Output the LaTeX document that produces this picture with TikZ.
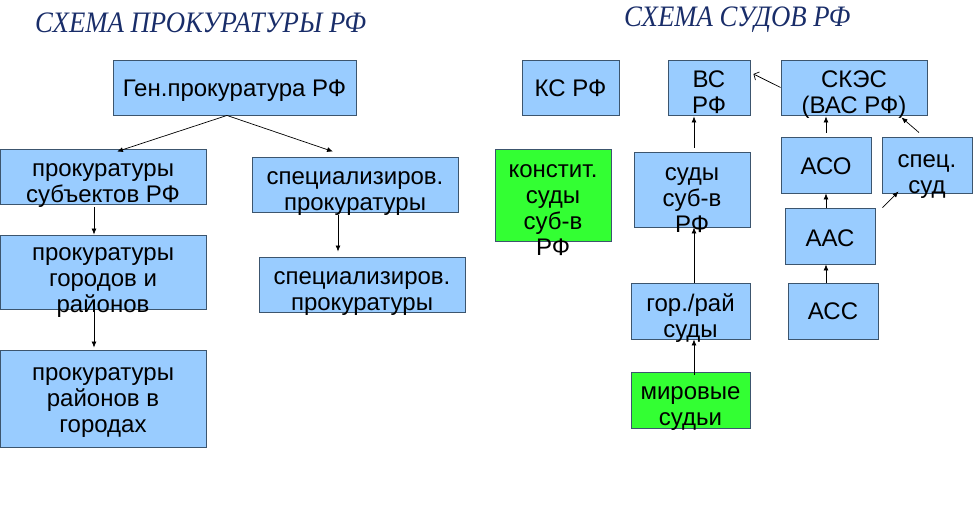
\documentclass[tikz,border=0pt]{standalone}
\usepackage{fontspec}
\setmainfont{Liberation Sans}
\newfontfamily\titlefont{Liberation Serif}[FakeStretch=0.9]
\usetikzlibrary{arrows.meta}
\definecolor{boxblue}{RGB}{153,204,255}
\definecolor{boxgreen}{RGB}{51,255,51}
\definecolor{boxline}{RGB}{60,85,110}
\definecolor{titleblue}{RGB}{25,45,105}
\tikzstyle{bluebox} = [rectangle, draw=boxline, fill=boxblue, line width=0.9pt, inner sep=0pt]
\tikzstyle{greenbox} = [bluebox, fill=boxgreen]
\tikzstyle{boxtext} = [align=center, inner sep=0pt, font=\fontsize{24}{26}\selectfont]
\tikzstyle{heading} = [inner sep=0pt, anchor=base west, text=titleblue, font=\titlefont\itshape\fontsize{29.7}{32}\selectfont]
\tikzstyle{arrow} = [line width=0.7pt, -{Latex[length=6pt,width=5pt]}]
\tikzstyle{openarrow} = [line width=0.7pt, -{Straight Barb[length=4pt,width=9pt]}]

\begin{document}
\begin{tikzpicture}[x=1pt, y=-1pt]
\useasboundingbox (0,0) rectangle (974,514);
% заголовки
\node (headL) [heading] at (35,32) {СХЕМА ПРОКУРАТУРЫ РФ};
\node (headR) [heading] at (624,27) {СХЕМА СУДОВ РФ};

% прокуратура
\node (gen) [bluebox, minimum width=243pt, minimum height=55pt] at (234.5,87.5) {};
\node (subj) [bluebox, minimum width=206pt, minimum height=55pt] at (103,176.5) {};
\node (spec1) [bluebox, minimum width=206pt, minimum height=55pt] at (355,184.5) {};
\node (gor) [bluebox, minimum width=206pt, minimum height=74pt] at (103,272) {};
\node (rayon) [bluebox, minimum width=206pt, minimum height=97pt] at (103,398.5) {};
\node (spec2) [bluebox, minimum width=206pt, minimum height=55pt] at (362,284.5) {};

% суды
\node (ks) [bluebox, minimum width=97pt, minimum height=55pt] at (570.5,87.5) {};
\node (vs) [bluebox, minimum width=82pt, minimum height=55pt] at (709,87.5) {};
\node (skes) [bluebox, minimum width=146pt, minimum height=55pt] at (854,87.5) {};
\node (konst) [greenbox, minimum width=116pt, minimum height=92pt] at (553,195) {};
\node (suds) [bluebox, minimum width=116pt, minimum height=75pt] at (692,189.5) {};
\node (aso) [bluebox, minimum width=90pt, minimum height=56pt] at (826,165) {};
\node (specsud) [bluebox, minimum width=90pt, minimum height=56pt] at (927,165) {};
\node (aas) [bluebox, minimum width=90pt, minimum height=56pt] at (830,236) {};
\node (acc) [bluebox, minimum width=90pt, minimum height=56pt] at (833,311) {};
\node (gorray) [bluebox, minimum width=119pt, minimum height=56pt] at (690.5,311) {};
\node (mir) [greenbox, minimum width=119pt, minimum height=56pt] at (690.5,400) {};

% стрелки
\draw [arrow] ([xshift=-7.5pt]gen.south) -- ([xshift=14pt,yshift=-3pt]subj.north);
\draw [arrow] ([xshift=-7.5pt]gen.south) -- ([xshift=-22pt,yshift=5pt]spec1.north);
\draw [arrow] ([xshift=-9pt,yshift=-3pt]subj.south) -- ([xshift=-9pt]gor.north);
\draw [arrow] ([xshift=-9pt]gor.south) -- ([xshift=-9pt,yshift=2pt]rayon.north);
\draw [arrow] ([xshift=-17pt,yshift=-3pt]spec1.south) -- ([xshift=-24pt,yshift=5pt]spec2.north);
\draw [openarrow] (skes.west) -- ([xshift=3pt,yshift=13.5pt]vs.east);
\draw [arrow] ([xshift=2pt,yshift=4pt]suds.north) -- ([xshift=-15pt,yshift=-1pt]vs.south);
\draw [arrow] ([yshift=4pt]aso.north) -- ([xshift=-28pt,yshift=-1pt]skes.south);
\draw [arrow] ([xshift=-8pt,yshift=4pt]specsud.north) -- ([xshift=-26pt,yshift=-2pt]skes.south east);
\draw [arrow] ([xshift=-4pt]aas.north) -- (aso.south);
\draw [arrow] ([xshift=7pt]aas.north east) -- ([xshift=17pt,yshift=2pt]specsud.south west);
\draw [arrow] ([xshift=-7pt]acc.north) -- ([xshift=-4pt]aas.south);
\draw [arrow] ([xshift=3.5pt]gorray.north) -- ([xshift=2pt]suds.south);
\draw [arrow] ([xshift=3.5pt,yshift=-3pt]mir.north) -- ([xshift=3.5pt]gorray.south);

% надписи
\node (tgen) [boxtext] at (234.5,91) {Ген.прокуратура РФ};
\node (tsubj) [boxtext] at (103,186) {прокуратуры\\субъектов РФ};
\node (tspec1) [boxtext] at (355,194) {специализиров.\\прокуратуры};
\node (tgor) [boxtext] at (103,282.5) {прокуратуры\\городов и\\районов};
\node (trayon) [boxtext] at (103,402.5) {прокуратуры\\районов в\\городах};
\node (tspec2) [boxtext] at (362,294) {специализиров.\\прокуратуры};
\node (tks) [boxtext] at (570.5,88) {КС РФ};
\node (tvs) [boxtext] at (709,92.5) {ВС\\РФ};
\node (tskes) [boxtext] at (854,95) {СКЭС\\(ВАС РФ)};
\node (tkonst) [boxtext] at (553,210) {констит.\\суды\\суб-в\\РФ};
\node (tsuds) [boxtext] at (692,200) {суды\\суб-в\\РФ};
\node (taso) [boxtext] at (826,166) {АСО};
\node (tspecsud) [boxtext] at (927,176.5) {спец.\\суд};
\node (taas) [boxtext] at (830,238) {ААС};
\node (tacc) [boxtext] at (833,311.5) {АСС};
\node (tgorray) [boxtext] at (690.5,318) {гор./рай\\суды};
\node (tmir) [boxtext] at (690.5,409) {мировые\\судьи};
\end{tikzpicture}
\end{document}
